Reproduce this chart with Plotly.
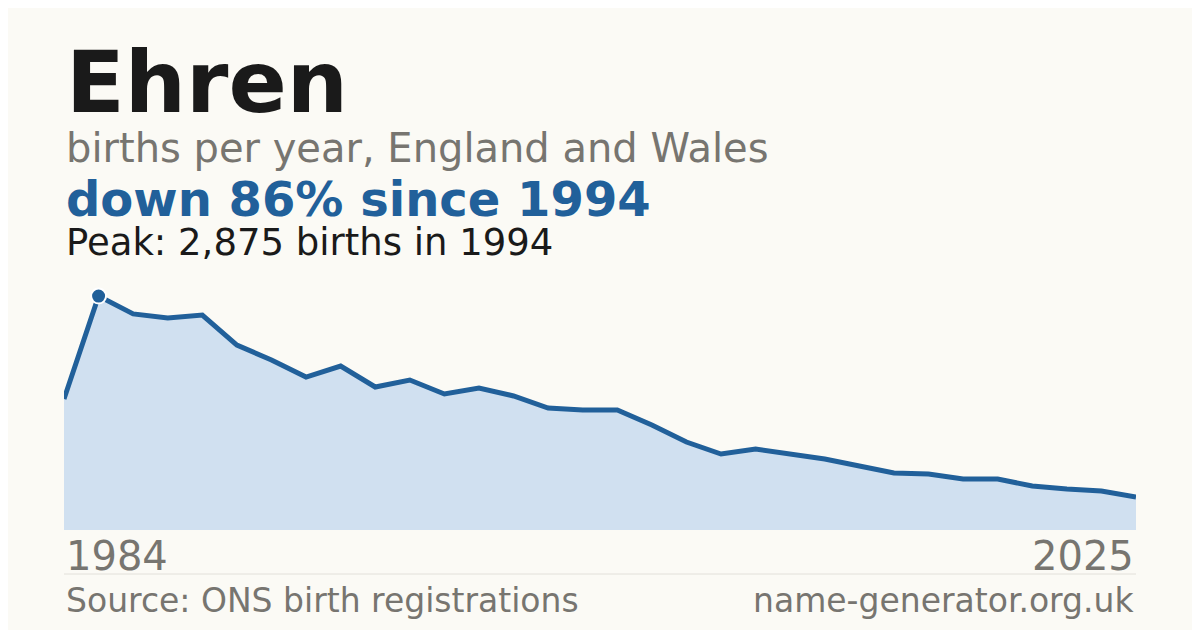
import plotly.graph_objects as go

years = list(range(1993, 2025))
births = [1610, 2875, 2655, 2605, 2642, 2273, 2089, 1880, 2015, 1757, 1843, 1671, 1745, 1647,
          1499, 1475, 1475, 1290, 1081, 934, 995, 934, 873, 786, 700, 688, 627, 627, 541, 504, 479, 405]
peak_year = 1994
peak_val = 2875
title = "Ehren"
subtitle = "births per year, England and Wales"
headline = "down 86% since 1994"
peak_text = "Peak: 2,875 births in 1994"
start_label, end_label = "1984", "2025"
source = "Source: ONS birth registrations"
site = "name-generator.org.uk"

BG = "#fbfaf5"; BLUE = "#21609a"; GREY = "#777570"
fig = go.Figure()
fig.add_trace(go.Scatter(x=years, y=births, mode="lines", fill="tozeroy",
                         fillcolor="#d0e0f0", line=dict(color=BLUE, width=5), hoverinfo="skip"))
fig.add_trace(go.Scatter(x=[peak_year], y=[peak_val], mode="markers",
                         marker=dict(size=15, color=BLUE, line=dict(color="white", width=2))))

def py(px):
    return (530 - px) / 250

F = "DejaVu Sans"
ann = [
    dict(text=f"<b>{title}</b>", y=py(82), size=86, color="#1a1a1a", x=0, xa="left"),
    dict(text=subtitle, y=py(148), size=40, color=GREY, x=0, xa="left"),
    dict(text=f"<b>{headline}</b>", y=py(199), size=48, color=BLUE, x=0, xa="left"),
    dict(text=peak_text, y=py(242), size=37, color="#1a1a1a", x=0, xa="left"),
    dict(text=start_label, y=py(556), size=40, color=GREY, x=0, xa="left"),
    dict(text=end_label, y=py(556), size=40, color=GREY, x=1, xa="right"),
    dict(text=source, y=py(600), size=33, color=GREY, x=0, xa="left"),
    dict(text=site, y=py(600), size=33, color=GREY, x=1, xa="right"),
]
for a in ann:
    fig.add_annotation(text=a["text"], xref="paper", yref="paper", x=a["x"], y=a["y"],
                       xanchor=a["xa"], yanchor="middle", showarrow=False,
                       font=dict(family=F, size=a["size"], color=a["color"]))
fig.add_shape(type="line", xref="paper", yref="paper", x0=0, x1=1, y0=py(574), y1=py(574),
              line=dict(color="#e2e0da", width=1))
fig.update_layout(width=1200, height=630, paper_bgcolor=BG, plot_bgcolor=BG, showlegend=False,
                  margin=dict(l=56, r=72, t=272, b=108),
                  xaxis=dict(range=[years[0], years[-1]], visible=False),
                  yaxis=dict(range=[0, 3072], visible=False))
fig.write_html("out.html")
